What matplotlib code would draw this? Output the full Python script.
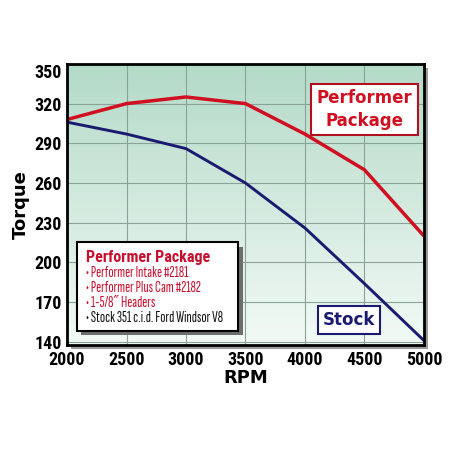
import numpy as np
import matplotlib
matplotlib.use("Agg")
import matplotlib.pyplot as plt
from matplotlib.patches import Rectangle
from matplotlib.colors import LinearSegmentedColormap

# data
rpm = [2000, 2500, 3000, 3500, 4000, 4500, 5000]
performer = [308, 320, 325, 320, 297, 270, 220]
stock = [306, 297, 286, 260, 226, 184, 141]
yticks = [140, 170, 200, 230, 260, 290, 320, 350]

legend_title = "Performer Package"
legend_items = ["Performer Intake #2181", "Performer Plus Cam #2182",
                "1-5/8\u2033 Headers", "Stock 351 c.i.d. Ford Windsor V8"]
legend_colors = ["#c8102e", "#c8102e", "#c8102e", "#111111"]

red = "#d01020"
navy = "#1a1a70"
cond = ["Roboto Condensed", "DejaVu Sans"]
xcond = ["Sofia Sans Extra Condensed", "Fira Sans Extra Condensed", "DejaVu Sans"]

fig = plt.figure(figsize=(4.5, 4.5), dpi=100)
fig.patch.set_facecolor("white")
ax = fig.add_axes([0.149, 0.233, 0.793, 0.625])

# drop shadow behind the plot box
fig.patches.append(Rectangle((0.149 + 0.008, 0.233 - 0.008), 0.793, 0.625,
                             transform=fig.transFigure, facecolor="#9a9a9a",
                             edgecolor="none", zorder=-1))

# gradient background
cmap = LinearSegmentedColormap.from_list("bg", ["#f3faf6", "#b3dac8"])
grad = np.linspace(0, 1, 256).reshape(-1, 1)
ax.imshow(grad, cmap=cmap, aspect="auto", origin="lower",
          extent=[2000, 5000, 137.5, 350], zorder=0)

ax.set_xlim(2000, 5000)
ax.set_ylim(137.5, 350)
ax.set_xticks(rpm)
ax.set_yticks(yticks)
for x in rpm[1:-1]:
    ax.axvline(x, color="#8aa398", lw=0.8, zorder=1)
for y in yticks[:-1]:
    ax.axhline(y, color="#8aa398", lw=0.8, zorder=1)

ax.plot(rpm, performer, color=red, lw=2.5, zorder=3, solid_capstyle="butt")
ax.plot(rpm, stock, color=navy, lw=2.1, zorder=3, solid_capstyle="butt")

for s in ax.spines.values():
    s.set_linewidth(2)
    s.set_color("black")
    s.set_zorder(5)
ax.tick_params(length=0, pad=4)
for lab in ax.get_xticklabels() + ax.get_yticklabels():
    lab.set_family(cond)
    lab.set_fontweight("bold")
    lab.set_fontsize(13)
ax.get_yticklabels()[-1].set_va("top")

ax.set_xlabel("RPM", fontweight="bold", fontsize=13, labelpad=0)
ax.set_ylabel("Torque", fontweight="bold", fontsize=13, labelpad=3)

# "Performer Package" label box
ax.text(0.833, 0.838, "Performer\nPackage", transform=ax.transAxes,
        ha="center", va="center", color=red, fontsize=12, fontweight="bold",
        linespacing=1.3, zorder=6,
        bbox=dict(boxstyle="square,pad=0.35", facecolor="white",
                  edgecolor="#b01020", lw=1.5))

# "Stock" label box
ax.text(0.79, 0.09, "Stock", transform=ax.transAxes, ha="center", va="center",
        color=navy, fontsize=12, fontweight="bold", zorder=6,
        bbox=dict(boxstyle="square,pad=0.3", facecolor="white",
                  edgecolor=navy, lw=1.5))

# legend panel with shadow
lx0, ly0, lw_, lh_ = 0.028, 0.05, 0.452, 0.315
ax.add_patch(Rectangle((lx0 + 0.012, ly0 - 0.015), lw_, lh_, transform=ax.transAxes,
                       facecolor="#6e6e6e", edgecolor="none", zorder=6))
ax.add_patch(Rectangle((lx0, ly0), lw_, lh_, transform=ax.transAxes,
                       facecolor="white", edgecolor="black", lw=1.5, zorder=7))
ax.text(lx0 + 0.025, ly0 + lh_ - 0.052, legend_title, transform=ax.transAxes,
        ha="left", va="center", color="#c8102e", fontsize=11.5, fontweight="bold",
        family=cond, zorder=8)
for i, (item, c) in enumerate(zip(legend_items, legend_colors)):
    yy = ly0 + lh_ - 0.109 - i * 0.053
    ax.text(lx0 + 0.025, yy, "\u2022 " + item, transform=ax.transAxes,
            ha="left", va="center", color=c, fontsize=11, fontweight="medium",
            family=xcond, zorder=8)

fig.savefig("out.png", dpi=100, facecolor="white")
